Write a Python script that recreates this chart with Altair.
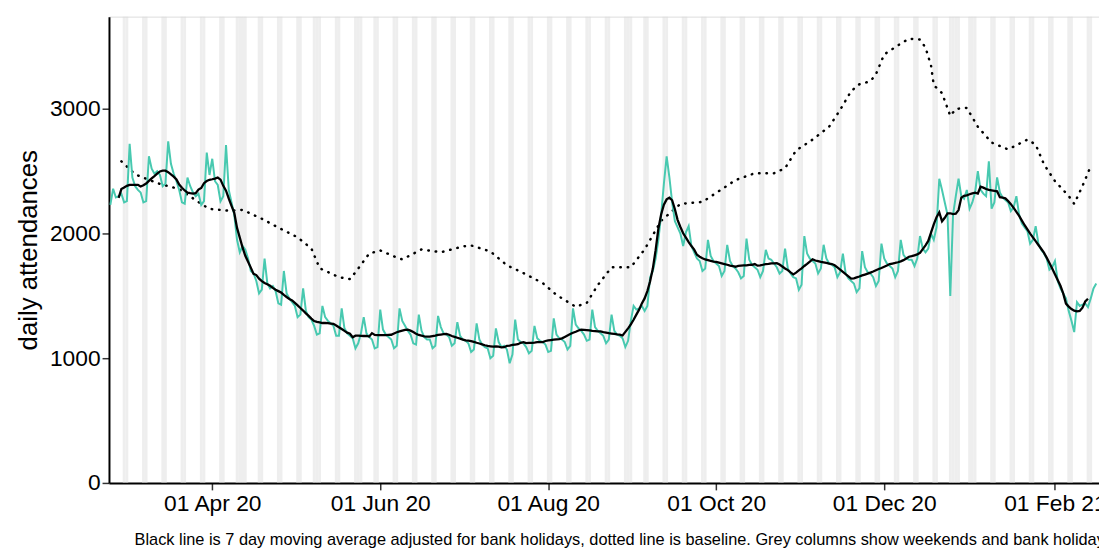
import altair as alt
import pandas as pd

start_date = "2020-02-24"
weeks = [
 [2230, 2360, 2290, 2300, 2320, 2250, 2260],
 [2720, 2450, 2380, 2350, 2330, 2250, 2260],
 [2620, 2520, 2480, 2500, 2470, 2380, 2400],
 [2740, 2560, 2480, 2420, 2350, 2250, 2240],
 [2450, 2380, 2330, 2300, 2320, 2230, 2260],
 [2650, 2470, 2600, 2420, 2390, 2260, 2300],
 [2710, 2350, 2250, 2150, 1950, 1850, 1900],
 [1870, 1800, 1700, 1680, 1620, 1520, 1550],
 [1800, 1600, 1560, 1580, 1540, 1440, 1430],
 [1700, 1520, 1480, 1450, 1420, 1330, 1350],
 [1560, 1380, 1330, 1310, 1260, 1190, 1200],
 [1420, 1330, 1300, 1280, 1260, 1180, 1180],
 [1400, 1240, 1200, 1180, 1160, 1080, 1120],
 [1200, 1330, 1200, 1170, 1150, 1080, 1090],
 [1390, 1230, 1190, 1170, 1150, 1080, 1100],
 [1400, 1300, 1260, 1220, 1190, 1120, 1110],
 [1350, 1220, 1170, 1150, 1150, 1080, 1100],
 [1340, 1250, 1200, 1190, 1170, 1100, 1120],
 [1290, 1180, 1150, 1140, 1120, 1050, 1070],
 [1280, 1150, 1110, 1090, 1080, 1000, 1020],
 [1240, 1130, 1090, 1100, 1070, 960, 1030],
 [1310, 1150, 1130, 1120, 1090, 1040, 1060],
 [1260, 1160, 1140, 1130, 1110, 1050, 1060],
 [1320, 1190, 1160, 1150, 1130, 1070, 1100],
 [1400, 1270, 1240, 1220, 1190, 1140, 1150],
 [1390, 1250, 1220, 1200, 1180, 1120, 1150],
 [1350, 1220, 1190, 1180, 1160, 1090, 1140],
 [1300, 1420, 1390, 1400, 1420, 1380, 1420],
 [1650, 1700, 1800, 1950, 2150, 2400, 2620],
 [2450, 2250, 2100, 2050, 2000, 1900, 2010],
 [2060, 1900, 1850, 1800, 1780, 1700, 1720],
 [1950, 1820, 1780, 1760, 1740, 1660, 1700],
 [1910, 1780, 1740, 1720, 1690, 1640, 1660],
 [1960, 1790, 1750, 1730, 1710, 1650, 1700],
 [1870, 1800, 1790, 1760, 1730, 1680, 1700],
 [1880, 1720, 1680, 1650, 1640, 1550, 1590],
 [1980, 1840, 1800, 1780, 1760, 1680, 1720],
 [1910, 1800, 1760, 1750, 1730, 1650, 1690],
 [1840, 1680, 1640, 1620, 1600, 1530, 1560],
 [1860, 1730, 1690, 1680, 1650, 1580, 1620],
 [1920, 1800, 1760, 1740, 1720, 1650, 1700],
 [1950, 1830, 1800, 1790, 1790, 1740, 1800],
 [1980, 1880, 1850, 1880, 2000, 1950, 2050],
 [2440, 2350, 2250, 2150, 1500, 2150, 2300],
 [2440, 2300, 2280, 2350, 2200, 2250, 2330],
 [2500, 2350, 2320, 2300, 2580, 2200, 2250],
 [2450, 2330, 2290, 2270, 2250, 2180, 2210],
 [2300, 2150, 2080, 2050, 2020, 1920, 1950],
 [2060, 1920, 1870, 1840, 1800, 1710, 1730],
 [1780, 1620, 1560, 1520, 1480, 1380, 1300],
 [1210, 1450, 1420, 1430, 1440, 1410, 1480],
 [1560, 1600],
]

baseline_dates = ["2020-02-28","2020-03-04","2020-03-12","2020-03-20","2020-03-28","2020-03-31",
 "2020-04-07","2020-04-12","2020-04-19","2020-04-25","2020-05-02","2020-05-07","2020-05-10",
 "2020-05-17","2020-05-21","2020-05-23","2020-05-28","2020-06-01","2020-06-06","2020-06-09",
 "2020-06-16","2020-06-23","2020-07-01","2020-07-04","2020-07-11","2020-07-17","2020-07-23",
 "2020-07-30","2020-08-04","2020-08-11","2020-08-15","2020-08-19","2020-08-24","2020-08-31",
 "2020-09-05","2020-09-11","2020-09-18","2020-09-26","2020-10-02","2020-10-08","2020-10-15",
 "2020-10-22","2020-10-26","2020-10-30","2020-11-05","2020-11-11","2020-11-15","2020-11-19",
 "2020-11-22","2020-11-26","2020-11-28","2020-12-01","2020-12-07","2020-12-10","2020-12-14",
 "2020-12-16","2020-12-18","2020-12-19","2020-12-22","2020-12-25","2020-12-27","2020-12-31",
 "2021-01-04","2021-01-09","2021-01-15","2021-01-22","2021-01-25","2021-01-28","2021-02-01",
 "2021-02-06","2021-02-08","2021-02-11","2021-02-14"]
baseline_values = [2580,2475,2405,2357,2238,2198,2183,2190,2119,2048,1970,1880,1722,1650,1635,1690,
 1840,1865,1817,1793,1873,1850,1897,1905,1857,1746,1683,1603,1508,1413,1444,1587,1730,1730,
 1873,2103,2238,2254,2341,2429,2484,2484,2524,2667,2754,2857,2992,3143,3198,3222,3278,3437,
 3524,3563,3556,3492,3349,3190,3127,2944,3000,3008,2857,2730,2675,2754,2714,2556,2421,2302,
 2238,2381,2540]

bank_holidays = ["2020-04-10","2020-04-13","2020-05-08","2020-05-25","2020-08-31",
                 "2020-12-25","2020-12-28","2021-01-01"]

vals = [v for w in weeks for v in w]
dates = pd.date_range(start_date, periods=len(vals), freq="D")
daily = pd.DataFrame({"date": dates, "value": vals})

shade_days = [d for d in dates if d.dayofweek >= 5] + list(pd.to_datetime(bank_holidays))
shade = pd.DataFrame({"d0": [d - pd.Timedelta(hours=12) for d in shade_days],
                      "d1": [d + pd.Timedelta(hours=12) for d in shade_days]})
base = pd.DataFrame({"date": pd.to_datetime(baseline_dates), "value": baseline_values})

xdom = [pd.Timestamp("2020-02-23T12:00").isoformat(), pd.Timestamp("2021-02-17").isoformat()]
xscale = alt.Scale(domain=xdom)
ticks = [alt.DateTime(year=y, month=m, date=1) for y, m in
         [(2020, 4), (2020, 6), (2020, 8), (2020, 10), (2020, 12), (2021, 2)]]
yscale = alt.Scale(domain=[0, 3740], nice=False)

rects = alt.Chart(shade).mark_rect(color="#D9D9D9", opacity=0.45).encode(
    x=alt.X("d0:T", scale=xscale,
            axis=alt.Axis(values=ticks, format="%d %b %y", title=None, labelFontSize=23,
                          labelColor="black", tickColor="#333", tickSize=7, tickWidth=1.5,
                          domainColor="black", domainWidth=2,
                          grid=False, labelPadding=3)),
    x2="d1:T",
)
green = alt.Chart(daily).mark_line(color="#48C9B0", strokeWidth=2).encode(
    x="date:T",
    y=alt.Y("value:Q", scale=yscale,
            axis=alt.Axis(values=[0, 1000, 2000, 3000], format="d", title="daily attendances",
                          titleFontSize=26, titleFontWeight="normal", titleColor="black",
                          labelFontSize=23, labelColor="black", grid=False,
                          domainColor="black", domainWidth=2, tickColor="#333", tickSize=7,
                          tickWidth=1.5, titlePadding=8)),
)
black = alt.Chart(daily).transform_window(
    ma="mean(value)", n="count()", frame=[-3, 3]
).transform_filter("datum.n == 7").mark_line(color="black", strokeWidth=2.3).encode(
    x="date:T", y="ma:Q")
dotted = alt.Chart(base).mark_line(color="black", strokeWidth=2.5, strokeDash=[0.5, 7],
                                   strokeCap="round").encode(x="date:T", y="value:Q")

chart = alt.layer(rects, dotted, green, black).properties(
    width=1000, height=471,
    autosize=alt.AutoSizeParams(type="none"),
    padding={"left": 102, "top": 6, "right": 0, "bottom": 65},
    title=alt.TitleParams(
        "Black line is 7 day moving average adjusted for bank holidays, dotted line is baseline. Grey columns show weekends and bank holidays",
        orient="bottom", anchor="middle", fontSize=16.5, fontWeight="normal", offset=17, dx=20),
).configure_view(stroke=None).configure(font="Liberation Sans")

chart.save("out.html", embed_options={"renderer": "svg", "actions": False})
